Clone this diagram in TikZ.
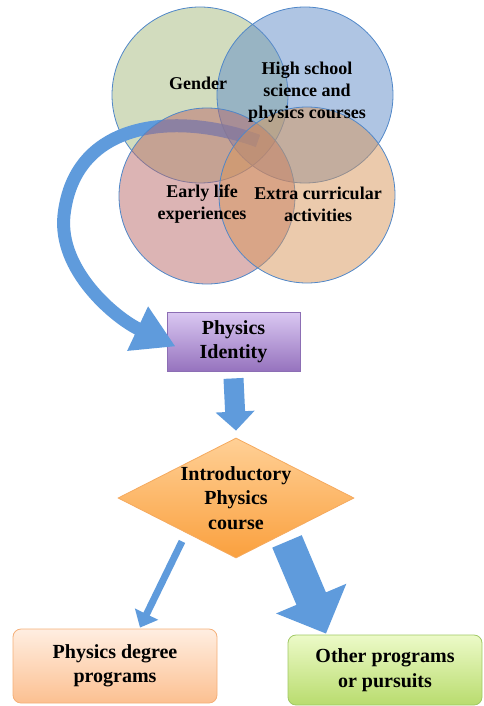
\documentclass[tikz,border=0pt]{standalone}
\usepackage{fontspec}
\setmainfont{Liberation Serif}
\usetikzlibrary{arrows.meta,positioning,shapes.geometric}
\definecolor{VennGreen}{RGB}{165,185,125}
\definecolor{VennBlue}{RGB}{95,140,200}
\definecolor{VennRed}{RGB}{185,105,105}
\definecolor{VennOrange}{RGB}{215,150,90}
\definecolor{EdgeBlue}{RGB}{80,135,200}
\definecolor{ArrowBlue}{RGB}{95,155,220}
\definecolor{LilacTop}{RGB}{218,200,242}
\definecolor{LilacBottom}{RGB}{150,115,190}
\definecolor{LilacEdge}{RGB}{140,110,180}
\definecolor{AmberTop}{RGB}{255,208,150}
\definecolor{AmberBottom}{RGB}{250,160,62}
\definecolor{AmberEdge}{RGB}{245,170,95}
\definecolor{PeachTop}{RGB}{255,238,225}
\definecolor{PeachBottom}{RGB}{252,192,145}
\definecolor{PeachEdge}{RGB}{245,175,120}
\definecolor{LimeTop}{RGB}{236,250,200}
\definecolor{LimeBottom}{RGB}{185,220,110}
\definecolor{LimeEdge}{RGB}{160,200,100}

\begin{document}
\begin{tikzpicture}[x=1pt,y=-1pt,
    venn/.style={circle,draw=EdgeBlue,line width=0.8pt,minimum size=176pt,
      inner sep=0pt,fill opacity=0.5},
    lbl/.style={font=\fontsize{18}{22}\selectfont\bfseries,align=center,inner sep=0pt},
    big/.style={font=\fontsize{20}{24.5}\selectfont\bfseries,align=center,inner sep=0pt},
    panel/.style={rounded corners=8pt,line width=0.8pt,font=\fontsize{20}{24.5}\selectfont\bfseries,
      align=center}]
  \useasboundingbox (0,0) rectangle (483,706);

  \node[draw=LilacEdge,line width=0.8pt,top color=LilacTop,bottom color=LilacBottom,
    minimum width=133pt,minimum height=59pt,font=\fontsize{20}{24.5}\selectfont\bfseries,
    align=center] (ident) at (233.5,341.5) {Physics\\Identity};

  \node[venn,fill=VennGreen] (gender) at (200,95) {};
  \coordinate (swirl) at (258,141);
  \draw[-{Triangle[length=42pt,width=46pt]},ArrowBlue,line width=13pt]
    (swirl) .. controls (180,112) and (75,118) .. (64,215)
    .. controls (58,270) and (115,318) .. ([shift={(9pt,-5pt)}]ident.west);
  \node[venn,fill=VennBlue] (school) at (305,95) {};
  \node[venn,fill=VennRed] (early) at (207,196) {};
  \node[venn,fill=VennOrange] (extra) at (307,195) {};

  \node[lbl] (gendertxt) at (198,83) {Gender};
  \node[lbl] (schooltxt) at (307,92) {High school\\science and\\physics courses};
  \node[lbl] (earlytxt) at (202,204) {Early life\\experiences};
  \node[lbl] (extratxt) at (318,204) {Extra curricular\\activities};

  \node[diamond,draw=AmberEdge,line width=0.8pt,top color=AmberTop,bottom color=AmberBottom,
    minimum width=236pt,minimum height=120pt,inner sep=0pt] (intro) at (236,498) {};
  \node[big] (introtxt) at (intro.center) {Introductory\\Physics\\course};

  \node[panel,draw=PeachEdge,top color=PeachTop,bottom color=PeachBottom,
    minimum width=204pt,minimum height=74pt] (degree) at (115,666) {Physics degree\\programs};
  \node[panel,draw=LimeEdge,top color=LimeTop,bottom color=LimeBottom,
    minimum width=194pt,minimum height=70pt] (other) at (385,670) {Other programs\\or pursuits};

  \draw[-{Triangle[length=19pt,width=38pt]},ArrowBlue,line width=20pt]
    ([yshift=-7pt]ident.south) -- ([yshift=7pt]intro.north);
  \draw[-{Triangle[length=15pt,width=25pt]},ArrowBlue,line width=7pt]
    ([shift={(-54pt,17pt)}]intro.south) -- ([shift={(25pt,1pt)}]degree.north);
  \draw[-{Triangle[length=38pt,width=74pt]},ArrowBlue,line width=32pt]
    ([shift={(51pt,17pt)}]intro.south) -- ([shift={(-59pt,1pt)}]other.north);
\end{tikzpicture}
\end{document}
